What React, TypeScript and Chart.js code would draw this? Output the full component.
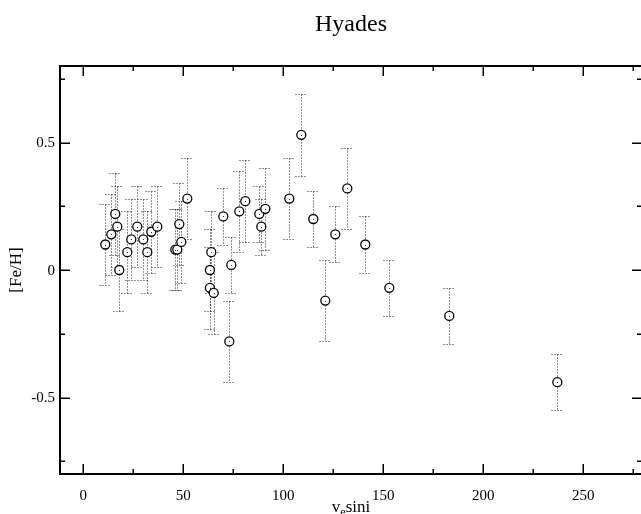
import React, { useEffect, useRef } from "react";
import { Chart, registerables } from "chart.js";

Chart.register(...registerables);

// ---- data ----
const chartTitle = "Hyades";
const yAxisTitle = "[Fe/H]";
const xAxisTitleParts = ["v", "e", "sini"]; // v_e sini

const vsini = [
  11, 14, 16, 17, 18, 22, 24, 27, 30, 32, 34, 37, 46, 47, 48, 49, 52,
  63.3, 63.3, 64, 65.2, 70, 73, 74, 78, 81, 88, 89, 91, 103,
  109, 115, 121, 126, 132, 141, 153, 183, 237,
];
const feh = [
  0.1, 0.14, 0.22, 0.17, 0.0, 0.07, 0.12, 0.17, 0.12, 0.07, 0.15, 0.17, 0.08, 0.08, 0.18, 0.11, 0.28,
  0.0, -0.07, 0.07, -0.09, 0.21, -0.28, 0.02, 0.23, 0.27, 0.22, 0.17, 0.24, 0.28,
  0.53, 0.2, -0.12, 0.14, 0.32, 0.1, -0.07, -0.18, -0.44,
];
const fehErr = [
  0.16, 0.16, 0.16, 0.16, 0.16, 0.16, 0.16, 0.16, 0.16, 0.16, 0.16, 0.16, 0.16, 0.16, 0.16, 0.16, 0.16,
  0.16, 0.16, 0.16, 0.16, 0.11, 0.16, 0.11, 0.16, 0.16, 0.11, 0.11, 0.16, 0.16,
  0.16, 0.11, 0.16, 0.11, 0.16, 0.11, 0.11, 0.11, 0.11,
];

const xMajorTicks = [0, 50, 100, 150, 200, 250];
const xMinorTicks = [25, 75, 125, 175, 225, 275];
const xTickLabels = ["0", "50", "100", "150", "200", "250"];
const yMajorTicks = [-0.5, 0, 0.5];
const yMinorTicks = [-0.75, -0.25, 0.25, 0.75];
const yTickLabels = ["-0.5", "0", "0.5"];

const xMin = -11.65;
const xMax = 279.35;
const yMin = -0.8;
const yMax = 0.8;

const SERIF = "'Liberation Serif', 'Times New Roman', serif";

const framePlugin = {
  id: "xmgraceFrame",
  beforeDatasetsDraw(chart: any) {
    const { ctx, chartArea } = chart;
    const xs = chart.scales.x;
    const ys = chart.scales.y;
    ctx.save();
    ctx.beginPath();
    ctx.rect(chartArea.left, chartArea.top, chartArea.right - chartArea.left, chartArea.bottom - chartArea.top);
    ctx.clip();
    ctx.strokeStyle = "#222";
    ctx.lineWidth = 1;
    ctx.setLineDash([1, 2]);
    for (let i = 0; i < vsini.length; i++) {
      const px = Math.round(xs.getPixelForValue(vsini[i])) + 0.5;
      const yT = Math.round(ys.getPixelForValue(feh[i] + fehErr[i])) + 0.5;
      const yB = Math.round(ys.getPixelForValue(feh[i] - fehErr[i])) + 0.5;
      ctx.beginPath();
      ctx.moveTo(px, yT);
      ctx.lineTo(px, yB);
      ctx.moveTo(px - 6, yT);
      ctx.lineTo(px + 6, yT);
      ctx.moveTo(px - 6, yB);
      ctx.lineTo(px + 6, yB);
      ctx.stroke();
    }
    ctx.restore();
  },
  afterDatasetsDraw(chart: any) {
    const { ctx } = chart;
    const xs = chart.scales.x;
    const ys = chart.scales.y;
    ctx.save();
    ctx.fillStyle = "#333";
    for (let i = 0; i < vsini.length; i++) {
      const px = Math.round(xs.getPixelForValue(vsini[i]));
      const py = Math.round(ys.getPixelForValue(feh[i]));
      ctx.fillRect(px, py, 1, 1);
    }
    ctx.restore();
  },
  afterDraw(chart: any) {
    const { ctx, chartArea } = chart;
    const xs = chart.scales.x;
    const ys = chart.scales.y;
    const L = chartArea.left, R = chartArea.right, T = chartArea.top, B = chartArea.bottom;
    ctx.save();
    // frame
    ctx.strokeStyle = "#000";
    ctx.lineWidth = 2;
    ctx.strokeRect(L, T, R - L, B - T);
    // ticks
    ctx.lineWidth = 1.5;
    ctx.beginPath();
    const xt = (v: number, len: number) => {
      const p = Math.round(xs.getPixelForValue(v)) + 0.25;
      ctx.moveTo(p, B);
      ctx.lineTo(p, B - len);
      ctx.moveTo(p, T);
      ctx.lineTo(p, T + len);
    };
    const yt = (v: number, len: number) => {
      const p = Math.round(ys.getPixelForValue(v)) + 0.25;
      ctx.moveTo(L, p);
      ctx.lineTo(L + len, p);
      ctx.moveTo(R, p);
      ctx.lineTo(R - len, p);
    };
    xMajorTicks.forEach((v) => xt(v, 10));
    xMinorTicks.forEach((v) => xt(v, 5));
    yMajorTicks.forEach((v) => yt(v, 10));
    yMinorTicks.forEach((v) => yt(v, 5));
    ctx.stroke();

    // tick labels
    ctx.fillStyle = "#000";
    ctx.font = `15px ${SERIF}`;
    ctx.textAlign = "center";
    ctx.textBaseline = "alphabetic";
    xMajorTicks.forEach((v, i) => {
      ctx.fillText(xTickLabels[i], xs.getPixelForValue(v), B + 26);
    });
    ctx.textAlign = "right";
    ctx.textBaseline = "middle";
    yMajorTicks.forEach((v, i) => {
      ctx.fillText(yTickLabels[i], L - 5, ys.getPixelForValue(v) + 1);
    });

    // title
    ctx.font = `24px ${SERIF}`;
    ctx.textAlign = "center";
    ctx.textBaseline = "alphabetic";
    ctx.fillText(chartTitle, (L + R) / 2, 31);

    // y axis title
    ctx.font = `17px ${SERIF}`;
    ctx.save();
    ctx.translate(17, (T + B) / 2);
    ctx.rotate(-Math.PI / 2);
    ctx.textAlign = "center";
    ctx.textBaseline = "middle";
    ctx.fillText(yAxisTitle, 0, 0);
    ctx.restore();

    // x axis title with subscript
    const bigFont = `17px ${SERIF}`;
    const smallFont = `12px ${SERIF}`;
    ctx.textAlign = "left";
    ctx.textBaseline = "alphabetic";
    ctx.font = bigFont;
    const w0 = ctx.measureText(xAxisTitleParts[0]).width;
    const w2 = ctx.measureText(xAxisTitleParts[2]).width;
    ctx.font = smallFont;
    const w1 = ctx.measureText(xAxisTitleParts[1]).width;
    const total = w0 + w1 + w2;
    let cx = (L + R) / 2 - total / 2;
    const base = 512;
    ctx.font = bigFont;
    ctx.fillText(xAxisTitleParts[0], cx, base);
    cx += w0;
    ctx.font = smallFont;
    ctx.fillText(xAxisTitleParts[1], cx, base + 4);
    cx += w1;
    ctx.font = bigFont;
    ctx.fillText(xAxisTitleParts[2], cx, base);
    ctx.restore();
  },
};

export default function App() {
  const canvasRef = useRef<HTMLCanvasElement | null>(null);

  useEffect(() => {
    if (!canvasRef.current) return;
    const points = vsini.map((v, i) => ({ x: v, y: feh[i] }));
    const chart = new Chart(canvasRef.current, {
      type: "scatter",
      data: {
        datasets: [
          {
            data: points,
            pointStyle: "circle",
            pointRadius: 4.5,
            pointBorderWidth: 1.3,
            borderColor: "#000",
            backgroundColor: "#fff",
            pointBackgroundColor: "#fff",
            pointBorderColor: "#000",
            showLine: false,
          } as any,
        ],
      },
      options: {
        responsive: false,
        maintainAspectRatio: false,
        devicePixelRatio: 1,
        animation: false,
        events: [],
        layout: { padding: { left: 60, top: 66, right: 18, bottom: 40 } },
        plugins: {
          legend: { display: false },
          tooltip: { enabled: false },
          title: { display: false },
        },
        scales: {
          x: { type: "linear", display: false, min: xMin, max: xMax },
          y: { type: "linear", display: false, min: yMin, max: yMax },
        },
      },
      plugins: [framePlugin],
    });
    return () => chart.destroy();
  }, []);

  return (
    <div
      style={{
        position: "fixed",
        left: 0,
        top: 0,
        width: 641,
        height: 514,
        overflow: "hidden",
        background: "#fff",
      }}
    >
      <canvas
        ref={canvasRef}
        width={660}
        height={514}
        style={{ display: "block", width: 660, height: 514 }}
      />
    </div>
  );
}
